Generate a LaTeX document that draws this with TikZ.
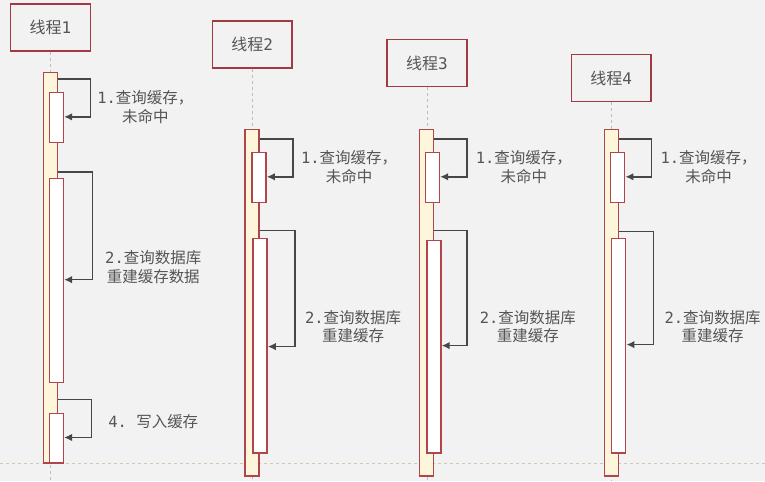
\documentclass[tikz,border=0pt]{standalone}
\usepackage{fontspec}
\setmainfont{Noto Sans CJK SC}
\newfontfamily\numfont{DejaVu Sans Mono}
\usetikzlibrary{arrows.meta,positioning}
\definecolor{bg}{HTML}{F2F2F2}
\definecolor{headred}{HTML}{A23A44}
\definecolor{barred}{HTML}{B0454C}
\definecolor{barfill}{HTML}{FDF6DA}
\definecolor{lifegray}{HTML}{C9B5B5}
\definecolor{arrowgray}{HTML}{474747}
\definecolor{txtgray}{HTML}{555555}
\definecolor{sepline}{HTML}{CFCAB0}

\begin{document}
\begin{tikzpicture}[x=1pt,y=-1pt,
  head/.style={draw=headred,fill=bg,line width=1.4pt,minimum width=80pt,minimum height=47pt,inner sep=0pt,text=txtgray,font=\fontsize{16}{18}\selectfont},
  life/.style={draw=lifegray,dashed,line width=0.9pt},
  outerbar/.style={draw=barred,fill=barfill,line width=1.4pt,minimum width=14pt,inner sep=0pt,anchor=north},
  innerbar/.style={draw=barred,fill=white,line width=1.4pt,minimum width=14pt,inner sep=0pt,anchor=north},
  msg/.style={draw=arrowgray,line width=1.5pt,-{Latex[length=8pt,width=7.5pt]}},
  note/.style={text=txtgray,align=center,inner sep=0pt,font=\fontsize{15.5}{19}\selectfont}]

  \fill[bg] (0,0) rectangle (765,482);
  \draw[sepline,dashed,line width=0.9pt] (0,464) -- (765,464);

  % thread heads
  \node[head] (h1) at (50,27.5) {线程{\numfont 1}};
  \node[head] (h2) at (252,44.5) {线程{\numfont 2}};
  \node[head] (h3) at (427,63) {线程{\numfont 3}};
  \node[head] (h4) at (611.5,78) {线程{\numfont 4}};

  \draw[life] (h1.south) -- (h1.south |- 0,482);
  \draw[life] (h2.south) -- (h2.south |- 0,482);
  \draw[life] (h3.south) -- (h3.south |- 0,482);
  \draw[life] (h4.south) -- (h4.south |- 0,482);

  % thread 1
  \node[outerbar,minimum height=391pt] (o1) at (50,72) {};
  \node[innerbar,minimum height=50pt] (i1a) at (56,92) {};
  \node[innerbar,minimum height=204pt] (i1b) at (56,178) {};
  \node[innerbar,minimum height=50pt] (i1c) at (56,413) {};
  \draw[msg] (o1.east |- 0,79) -- (90,79) |- (i1a.east |- 0,117);
  \draw[msg] (o1.east |- 0,172) -- (92,172) |- (i1b.east |- 0,280);
  \draw[msg] (o1.east |- 0,400) -- (91,400) |- (i1c.east |- 0,438);
  \node[note] (n1a) at (145,107.5) {{\numfont 1.}查询缓存，\\未命中};
  \node[note] (n1b) at (153,267.5) {{\numfont 2.}查询数据库\\重建缓存数据};
  \node[note] (n1c) at (153,422) {{\numfont 4.\ }写入缓存};

  % thread 2
  \node[outerbar,minimum height=347pt] (o2) at (252,129) {};
  \node[innerbar,minimum height=50pt] (i2a) at (259,152) {};
  \node[innerbar,minimum height=215pt] (i2b) at (260,238) {};
  \draw[msg] (o2.east |- 0,139) -- (293,139) |- (i2a.east |- 0,177);
  \draw[msg] (o2.east |- 0,231) -- (295,231) |- (i2b.east |- 0,347);
  \node[note] (n2a) at (349,167) {{\numfont 1.}查询缓存，\\未命中};
  \node[note] (n2b) at (353,327) {{\numfont 2.}查询数据库\\重建缓存};

  % thread 3
  \node[outerbar,minimum height=347pt] (o3) at (426.5,129) {};
  \node[innerbar,minimum height=50pt] (i3a) at (432.5,152) {};
  \node[innerbar,minimum height=213pt] (i3b) at (434,240) {};
  \draw[msg] (o3.east |- 0,139) -- (467,139) |- (i3a.east |- 0,177);
  \draw[msg] (o3.east |- 0,231) -- (467,231) |- (i3b.east |- 0,346);
  \node[note] (n3a) at (524,167) {{\numfont 1.}查询缓存，\\未命中};
  \node[note] (n3b) at (528,327) {{\numfont 2.}查询数据库\\重建缓存};

  % thread 4
  \node[outerbar,minimum height=347pt] (o4) at (612,129) {};
  \node[innerbar,minimum height=50pt] (i4a) at (618,152) {};
  \node[innerbar,minimum height=215pt] (i4b) at (619,238) {};
  \draw[msg] (o4.east |- 0,139) -- (652,139) |- (i4a.east |- 0,177);
  \draw[msg] (o4.east |- 0,232) -- (654,232) |- (i4b.east |- 0,345);
  \node[note] (n4a) at (709,167) {{\numfont 1.}查询缓存，\\未命中};
  \node[note] (n4b) at (713,327) {{\numfont 2.}查询数据库\\重建缓存};
\end{tikzpicture}
\end{document}
